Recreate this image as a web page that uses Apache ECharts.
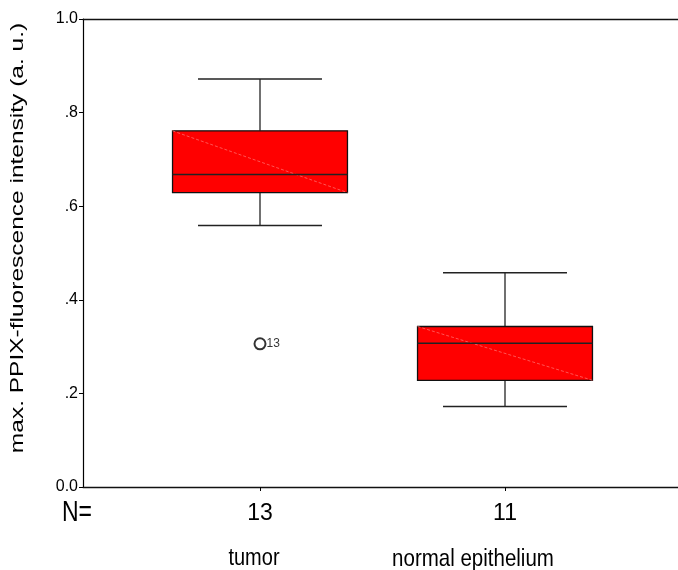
<!DOCTYPE html>
<html><head><meta charset="utf-8">
<script src="https://cdn.jsdelivr.net/npm/echarts@6/dist/echarts.min.js"></script>
<style>html,body{margin:0;padding:0;background:#fff}#c{width:678px;height:570px}</style>
</head><body><div id="c"></div>
<script>
const categories = ['tumor', 'normal epithelium'];
const counts = [13, 11];
const whiskerLow = [0.559, 0.172];
const q1 = [0.629, 0.228];
const median = [0.668, 0.307];
const q3 = [0.761, 0.343];
const whiskerHigh = [0.872, 0.458];
const outliers = [[0, 0.306]];
const outlierLabels = ['13'];
const yTicks = [0, 0.2, 0.4, 0.6, 0.8, 1.0];
const yTickLabels = ['0.0', '.2', '.4', '.6', '.8', '1.0'];
const yName = 'max. PPIX-fluorescence intensity (a. u.)';

const FONT = 'Liberation Sans, Arial, sans-serif';
const chart = echarts.init(document.getElementById('c'), null, {renderer: 'canvas'});

const boxData = categories.map((c, i) => [i, whiskerLow[i], q1[i], median[i], q3[i], whiskerHigh[i]]);

function renderBox(params, api) {
  const idx = api.value(0);
  const band = api.size([1, 0])[0];
  const boxW = band * 0.714;
  const capW = band * 0.506;
  const pLow = api.coord([idx, api.value(1)]);
  const pQ1 = api.coord([idx, api.value(2)]);
  const pMed = api.coord([idx, api.value(3)]);
  const pQ3 = api.coord([idx, api.value(4)]);
  const pHigh = api.coord([idx, api.value(5)]);
  const x = pMed[0];
  const L = x - boxW / 2, R = x + boxW / 2;
  const vStyle = {stroke: '#111', lineWidth: 1.2};
  const hStyle = {stroke: '#222', lineWidth: 1.5};
  return {
    type: 'group',
    children: [
      {type: 'line', shape: {x1: x, y1: pQ3[1], x2: x, y2: pHigh[1]}, style: vStyle},
      {type: 'line', shape: {x1: x, y1: pQ1[1], x2: x, y2: pLow[1]}, style: vStyle},
      {type: 'line', shape: {x1: x - capW / 2, y1: pHigh[1], x2: x + capW / 2, y2: pHigh[1]}, style: hStyle},
      {type: 'line', shape: {x1: x - capW / 2, y1: pLow[1], x2: x + capW / 2, y2: pLow[1]}, style: hStyle},
      {type: 'rect', shape: {x: L, y: pQ3[1], width: boxW, height: pQ1[1] - pQ3[1]}, style: {fill: '#ff0000', stroke: '#111', lineWidth: 1.3}},
      {type: 'line', shape: {x1: L, y1: pQ3[1], x2: R, y2: pQ1[1]}, style: {stroke: '#ff6a6a', lineWidth: 0.8, lineDash: [3, 2]}},
      {type: 'line', shape: {x1: L, y1: pMed[1], x2: R, y2: pMed[1]}, style: hStyle}
    ]
  };
}

const frameAxis = (pos) => ({
  type: 'value', gridIndex: 1, position: pos, min: 0, max: 1,
  axisLine: {show: true, onZero: false, lineStyle: {color: '#111', width: 1.4}},
  axisTick: {show: false}, axisLabel: {show: false}, splitLine: {show: false}
});

const option = {
  animation: false,
  backgroundColor: '#fff',
  textStyle: {fontFamily: FONT, color: '#000'},
  grid: [
    {left: 137.5, right: 50.5, top: 19, bottom: 83},
    {left: 83, right: 0, top: 19, bottom: 83}
  ],
  xAxis: [
    {type: 'category', gridIndex: 0, data: categories, boundaryGap: true,
     axisLine: {show: false},
     axisTick: {show: true, alignWithLabel: true, length: 4, lineStyle: {color: '#000'}},
     axisLabel: {fontSize: 23, color: '#000', margin: 15, fontFamily: FONT,
                 formatter: (v, i) => String(counts[i])}},
    frameAxis('bottom'),
    frameAxis('top')
  ],
  yAxis: [
    {type: 'value', gridIndex: 0, min: 0, max: 1, interval: 0.2, offset: 54.5,
     axisLine: {show: true, lineStyle: {color: '#000', width: 1.2}},
     axisTick: {show: true, length: 4, lineStyle: {color: '#000'}},
     splitLine: {show: false},
     axisLabel: {fontSize: 16, color: '#000', margin: 5, fontFamily: FONT,
                 formatter: v => { const k = yTicks.findIndex(t => Math.abs(t - v) < 1e-6); return k >= 0 ? yTickLabels[k] : ''; }}},
    {type: 'value', gridIndex: 1, show: false, min: 0, max: 1}
  ],
  graphic: [
    {type: 'text', x: 18, y: 238, rotation: Math.PI / 2, scaleX: 1.4,
     style: {text: yName, font: '17.5px ' + FONT, fill: '#000', align: 'center', verticalAlign: 'middle'}},
    {type: 'text', x: 62, y: 513, scaleY: 1.3,
     style: {text: 'N=', font: '23px ' + FONT, fill: '#000', align: 'left', verticalAlign: 'middle'}},
    {type: 'text', x: 254, y: 559, scaleY: 1.15,
     style: {text: categories[0], font: '20px ' + FONT, fill: '#000', align: 'center', verticalAlign: 'middle'}},
    {type: 'text', x: 473, y: 559, scaleY: 1.15,
     style: {text: categories[1], font: '20.5px ' + FONT, fill: '#000', align: 'center', verticalAlign: 'middle'}}
  ],
  series: [
    {type: 'custom', xAxisIndex: 0, yAxisIndex: 0, data: boxData, encode: {x: 0, y: [1, 2, 3, 4, 5]}, renderItem: renderBox, z: 2},
    {type: 'scatter', xAxisIndex: 0, yAxisIndex: 0, data: outliers, symbol: 'emptyCircle', symbolSize: 11,
     itemStyle: {color: '#000', borderColor: '#000', borderWidth: 1},
     label: {show: true, position: 'right', distance: 0, fontSize: 12, color: '#000', fontFamily: FONT,
             formatter: p => outlierLabels[p.dataIndex]}, z: 3}
  ]
};
chart.setOption(option);
</script></body></html>
